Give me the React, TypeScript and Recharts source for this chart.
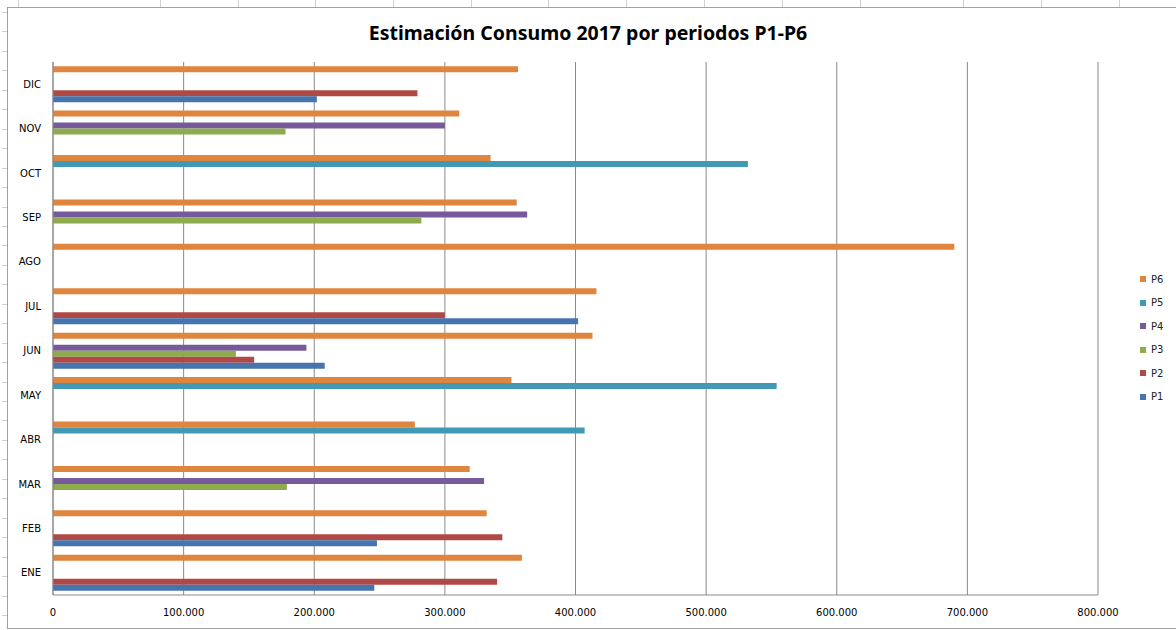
import { BarChart, Bar, XAxis, YAxis, CartesianGrid } from 'recharts';

const months = ['ENE', 'FEB', 'MAR', 'ABR', 'MAY', 'JUN', 'JUL', 'AGO', 'SEP', 'OCT', 'NOV', 'DIC'];
const p1 = [246000, 248000, null, null, null, 208000, 402000, null, null, null, null, 202000];
const p2 = [340000, 344000, null, null, null, 154000, 300000, null, null, null, null, 279000];
const p3 = [null, null, 179000, null, null, 140000, null, null, 282000, null, 178000, null];
const p4 = [null, null, 330000, null, null, 194000, null, null, 363000, null, 300000, null];
const p5 = [null, null, null, 407000, 554000, null, null, null, null, 532000, null, null];
const p6 = [359000, 332000, 319000, 277000, 351000, 413000, 416000, 690000, 355000, 335000, 311000, 356000];
const xTicks = [0, 100000, 200000, 300000, 400000, 500000, 600000, 700000, 800000];

// legend order top -> bottom, same as bar order inside each band
const series = [
  { key: 'P6', color: '#E0853E' },
  { key: 'P5', color: '#4199B5' },
  { key: 'P4', color: '#765A9A' },
  { key: 'P3', color: '#8EAB4E' },
  { key: 'P2', color: '#B04845' },
  { key: 'P1', color: '#4674AE' },
];

const data = months.map((m, i) => ({
  month: m,
  P1: p1[i],
  P2: p2[i],
  P3: p3[i],
  P4: p4[i],
  P5: p5[i],
  P6: p6[i],
}));

const fmt = (v: number) => String(v).replace(/\B(?=(\d{3})+(?!\d))/g, '.');

// spreadsheet cell marks around the chart object
const topCells = [18, 160, 238, 315, 393, 471, 548, 626, 704, 782, 860, 963, 1041, 1119];
const leftCells = Array.from({ length: 32 }, (_, i) => Math.round(12 + i * 19.45));

function App() {
  return (
    <div style={{ position: 'absolute', left: 0, top: 0, width: 1176, height: 630, overflow: 'hidden', background: '#fff' }}>
      {topCells.map((x) => (
        <div key={'t' + x} style={{ position: 'absolute', left: x, top: 0, width: 1, height: 7, background: '#d0d0d0' }} />
      ))}
      {leftCells.map((y) => (
        <div key={'l' + y} style={{ position: 'absolute', left: 2, top: y, width: 5, height: 1, background: '#d0d0d0' }} />
      ))}
      <div
        style={{
          position: 'absolute',
          left: 7,
          top: 7,
          width: 1180,
          height: 620,
          border: '1.5px solid #a0a0a0',
        }}
      />
      <div
        style={{
          position: 'absolute',
          left: 0,
          top: 19,
          width: 1176,
          textAlign: 'center',
          fontFamily: '"Noto Sans", sans-serif',
          fontWeight: 'bold',
          fontSize: 19.5,
          color: '#000',
        }}
      >
        Estimación Consumo 2017 por periodos P1-P6
      </div>
      <div style={{ position: 'absolute', left: 0, top: 0 }}>
        <BarChart
          layout='vertical'
          width={1176}
          height={630}
          data={data}
          margin={{ top: 62, right: 78, bottom: 5, left: 8 }}
          barCategoryGap={4.2}
          barGap={0}
        >
          <CartesianGrid horizontal={false} stroke='#8a8a8a' />
          <XAxis
            type='number'
            domain={[0, 800000]}
            ticks={xTicks}
            tickFormatter={fmt}
            height={30}
            tickLine={false}
            tickMargin={8}
            axisLine={{ stroke: '#8a8a8a' }}
            tick={{ fontFamily: 'DejaVu Sans', fontSize: 10, fill: '#000' }}
          />
          <YAxis
            type='category'
            dataKey='month'
            reversed
            width={45}
            tickLine={false}
            tickMargin={6}
            axisLine={{ stroke: '#8a8a8a' }}
            tick={{ fontFamily: 'DejaVu Sans', fontSize: 10, fill: '#000' }}
          />
          {series.map((s) => (
            <Bar key={s.key} dataKey={s.key} fill={s.color} isAnimationActive={false} />
          ))}
        </BarChart>
      </div>
      {series.map((s, i) => (
        <div
          key={'lg' + s.key}
          style={{
            position: 'absolute',
            left: 1140,
            top: 272 + i * 23.5,
            height: 14,
            display: 'flex',
            alignItems: 'center',
            fontFamily: 'DejaVu Sans',
            fontSize: 10,
            color: '#222',
          }}
        >
          <span style={{ width: 6, height: 6, background: s.color, display: 'inline-block', marginRight: 5 }} />
          {s.key}
        </div>
      ))}
    </div>
  );
}

export default App;
